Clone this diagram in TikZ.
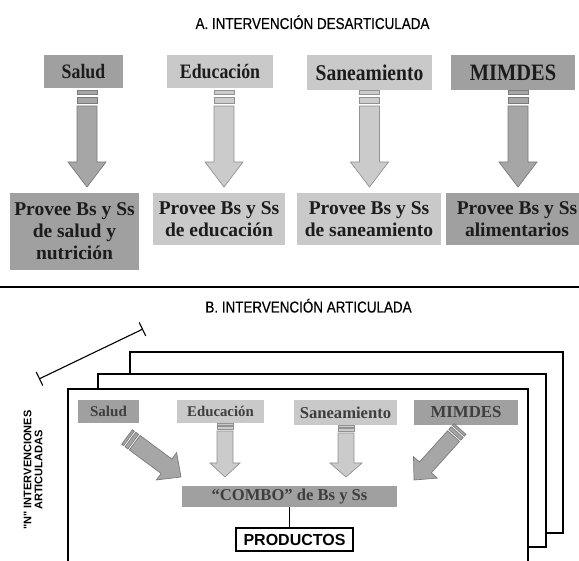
\documentclass[tikz,border=0pt]{standalone}
\usepackage{fontspec}
\setmainfont{Liberation Serif}
\newfontfamily\titlefont[FakeStretch=0.85,FakeBold=0.4]{Liberation Sans}
\newfontfamily\condserif[FakeStretch=0.87]{Liberation Serif}
\newfontfamily\vsans[Ligatures=TeXOff]{Liberation Sans}
\usetikzlibrary{calc,arrows.meta}
\definecolor{midgray}{HTML}{A0A0A0}
\definecolor{lightgray2}{HTML}{C9C9C9}
\definecolor{midfill}{HTML}{A6A6A6}
\definecolor{lightfill}{HTML}{CBCBCB}
\definecolor{midedge}{HTML}{7A7A7A}
\definecolor{lightedge}{HTML}{929292}
\definecolor{boxtext}{HTML}{1C1C1C}
\tikzset{
  arrow len/.code={\pgfmathsetmacro\aLen{#1}},
  arrow shaft/.code={\def\aHw{#1}},
  arrow head/.code={\def\aHh{#1}},
  arrow headlen/.code={\def\aHl{#1}},
  arrow stripe/.code={\def\aK{#1}},
  arrow len=97, arrow shaft=10, arrow head=19, arrow headlen=25, arrow stripe=1,
  barrow/.pic={
    \path[pic actions] (0,-\aHw) rectangle ({4*\aK},\aHw);
    \path[pic actions] ({7*\aK},-\aHw) rectangle ({13*\aK},\aHw);
    \path[pic actions] ({16*\aK},-\aHw) -- ({\aLen-\aHl},-\aHw) -- ({\aLen-\aHl},-\aHh)
      -- (\aLen,0) -- ({\aLen-\aHl},\aHh) -- ({\aLen-\aHl},\aHw) -- ({16*\aK},\aHw) -- cycle;
  },
}
\newcommand\bkarrow[3]{%
  \path let \p1=(#2), \p2=(#3),
    \n1={atan2(\y2-\y1,\x2-\x1)}, \n2={veclen(\x2-\x1,\y2-\y1)} in
    pic[rotate=\n1, arrow len=\n2, #1] at (\p1) {barrow};}
\begin{document}
\begin{tikzpicture}[x=1pt,y=1pt,
  box/.style={inner sep=0pt, outer sep=0pt, align=center, text=boxtext},
  mid/.style={fill=midgray},
  light/.style={fill=lightgray2},
  midarrow/.style={fill=midfill, draw=midedge, line width=0.7pt},
  lightarrow/.style={fill=lightfill, draw=lightedge, line width=0.7pt},
  topA/.style={arrow shaft=10, arrow head=19, arrow headlen=25, arrow stripe=1},
  vB/.style={arrow shaft=8, arrow head=15, arrow headlen=14, arrow stripe=0.5},
  dB/.style={arrow shaft=9, arrow head=17, arrow headlen=18, arrow stripe=0.6},
  page/.style={draw=black, fill=white, line width=2pt},
  ttl/.style={font=\titlefont\fontsize{15.8}{18}\selectfont, inner sep=0pt, anchor=base},
]
\useasboundingbox (0,0) rectangle (579,-561);
\fill[white] (0,0) rectangle (579,-561);

% ---------- Part A ----------
\node[ttl] (titleA) at (312.5,-29) {A. INTERVENCIÓN DESARTICULADA};

\node[box, mid, minimum width=79, minimum height=33, font=\condserif\bfseries\fontsize{20.5}{22}\selectfont] (s1) at (83.5,-71.5) {Salud};
\node[box, light, minimum width=106, minimum height=33, font=\condserif\bfseries\fontsize{20.5}{22}\selectfont] (s2) at (220,-71.5) {Educación};
\node[box, light, minimum width=125, minimum height=35, font=\condserif\bfseries\fontsize{22.5}{24}\selectfont] (s3) at (369.5,-72.5) {Saneamiento};
\node[box, mid, minimum width=124, minimum height=35, font=\condserif\bfseries\fontsize{23.5}{25}\selectfont] (s4) at (513,-72.5) {MIMDES};

\node[box, mid, minimum width=129, minimum height=77, font=\bfseries\fontsize{19.5}{22}\selectfont] (b1) at (74.5,-231.5) {Provee Bs y Ss\\de salud y\\nutrición};
\node[box, light, minimum width=132, minimum height=52, font=\bfseries\fontsize{19.5}{22}\selectfont] (b2) at (219,-219) {Provee Bs y Ss\\de educación};
\node[box, light, minimum width=144, minimum height=52, font=\bfseries\fontsize{19.5}{22}\selectfont] (b3) at (369,-219) {Provee Bs y Ss\\de saneamiento};
\node[box, mid, minimum width=142, minimum height=52, font=\bfseries\fontsize{19.5}{22}\selectfont] (b4) at (517,-219) {Provee Bs y Ss\\alimentarios};

\coordinate (a1t) at ($(s1.south)+(3.5,-2)$);
\coordinate (a1h) at ($(a1t |- b1.north)+(0,6)$);
\coordinate (a2t) at ($(s2.south)+(4,-2)$);
\coordinate (a2h) at ($(a2t |- b2.north)+(0,6)$);
\coordinate (a3t) at ($(s3.south)+(0,0)$);
\coordinate (a3h) at ($(a3t |- b3.north)+(0,6)$);
\coordinate (a4t) at ($(s4.south)+(5,0)$);
\coordinate (a4h) at ($(a4t |- b4.north)+(0,6)$);
\bkarrow{midarrow, topA}{a1t}{a1h}
\bkarrow{lightarrow, topA}{a2t}{a2h}
\bkarrow{lightarrow, topA}{a3t}{a3h}
\bkarrow{midarrow, topA}{a4t}{a4h}

% separator
\coordinate (sepL) at (0,-287);
\coordinate (sepR) at (579,-287);
\draw[line width=1.2pt] (sepL) -- (sepR);

% ---------- Part B ----------
\node[ttl] (titleB) at (308.5,-312.5) {B. INTERVENCIÓN ARTICULADA};

\coordinate (dimA) at (39,-379);
\coordinate (dimB) at (143,-329);
\draw[line width=1.1pt, {Bar[width=15pt]}-{Bar[width=15pt]}] (dimA) -- (dimB);

\node[rotate=90, align=center, inner sep=0pt, font=\vsans\bfseries\fontsize{11}{11}\selectfont] (nlab) at (33,-470) {"N" INTERVENCIONES\\ARTICULADAS};

\draw[page] (130,-533) rectangle (563,-352);
\draw[page] (98,-547) rectangle (546,-374);
\draw[page] (68,-590) rectangle (528,-389);

\node[box, mid, minimum width=61, minimum height=23, font=\bfseries\fontsize{15}{17}\selectfont, text=boxtext!85!white] (bs) at (108.5,-411.5) {Salud};
\node[box, light, minimum width=87, minimum height=23, font=\bfseries\fontsize{14.8}{17}\selectfont, text=boxtext!85!white] (be) at (220.5,-411.5) {Educación};
\node[box, light, minimum width=103, minimum height=25, font=\bfseries\fontsize{16.6}{18}\selectfont, text=boxtext!85!white] (bn) at (345.5,-412.5) {Saneamiento};
\node[box, mid, minimum width=104, minimum height=25, font=\bfseries\fontsize{16.8}{18}\selectfont, text=boxtext!85!white] (bm) at (466,-412.5) {MIMDES};

\node[box, mid, minimum width=215, minimum height=21, font=\bfseries\fontsize{16.6}{18}\selectfont, text=boxtext!85!white] (combo) at (289.5,-496.5) {“COMBO” de Bs y Ss};
\node[draw=black, line width=1.3pt, fill=white, inner sep=0pt, minimum width=117, minimum height=23, font=\vsans\bfseries\fontsize{16}{18}\selectfont] (prod) at (294.5,-539.5) {PRODUCTOS};
\draw[line width=1.1pt] (combo.south) -- (combo.south |- prod.north);

\coordinate (c1t) at ($(bs.south east)+(-12,-14)$);
\coordinate (c1h) at ($(combo.north west)+(-1,9)$);
\coordinate (c2t) at ($(be.south)+(4.5,0)$);
\coordinate (c2h) at ($(c2t |- combo.north)+(0,9)$);
\coordinate (c3t) at ($(bn.south)+(0.5,0)$);
\coordinate (c3h) at ($(c3t |- combo.north)+(0,9)$);
\coordinate (c4t) at ($(bm.south)+(-6,-4)$);
\coordinate (c4h) at ($(combo.north east)+(17,6)$);
\bkarrow{midarrow, dB}{c1t}{c1h}
\bkarrow{lightarrow, vB}{c2t}{c2h}
\bkarrow{lightarrow, vB, arrow head=16}{c3t}{c3h}
\bkarrow{midarrow, dB, arrow shaft=8, arrow head=16, arrow headlen=17}{c4t}{c4h}
\end{tikzpicture}
\end{document}
